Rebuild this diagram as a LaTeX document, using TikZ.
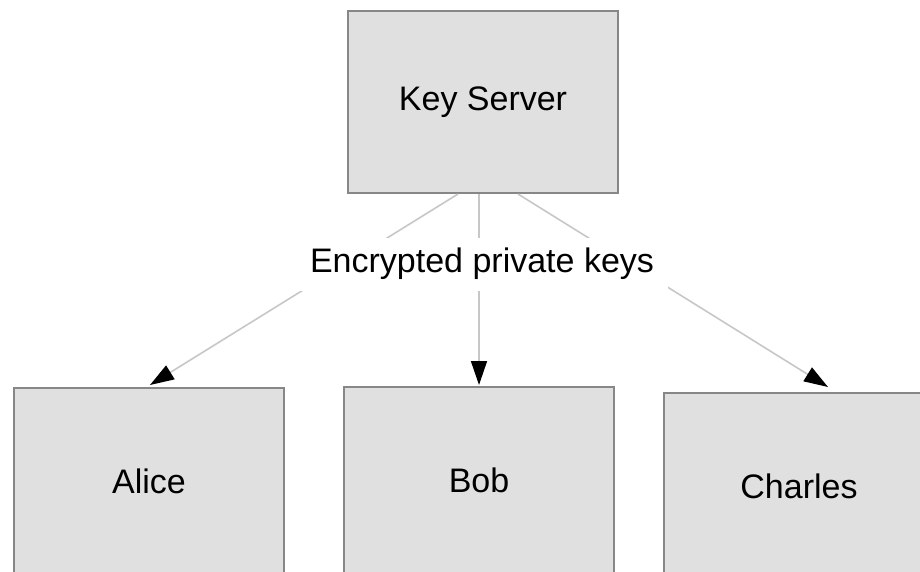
\documentclass[tikz,border=0pt]{standalone}
\usepackage{fontspec}
\setmainfont{Liberation Sans}
\usetikzlibrary{arrows.meta}
\begin{document}
\begin{tikzpicture}[x=1pt,y=-1pt,
  party/.style={draw=black!47, line width=2pt, fill=black!12,
    minimum width=270pt, inner sep=0pt, anchor=north west,
    font=\fontsize{34}{40}\selectfont},
  link/.style={draw=black!22, line width=1.6pt,
    -{Triangle[length=24pt,width=16pt,fill=black,color=black]}},
  tag/.style={fill=white, inner sep=0pt, minimum width=372pt,
    minimum height=53pt, font=\fontsize{34}{40}\selectfont}
]
\useasboundingbox (0,0) rectangle (920,571);
\clip (0,0) rectangle (920,571);

% server and the three users
\node[party, minimum height=182pt] (ks) at (347,10) {Key Server};
\node[party, minimum height=186pt] (alice) at (13,387) {Alice};
\node[party, minimum height=186pt] (bob) at (343,386) {Bob};
\node[party, minimum height=186pt] (charles) at (663,392) {Charles};

% key distribution links
\draw[link] ([xshift=111pt]ks.south west) -- ([xshift=137pt,yshift=2pt]alice.north west);
\draw[link] ([xshift=132pt]ks.south west) -- ([xshift=136pt,yshift=1pt]bob.north west);
\draw[link] ([xshift=171pt]ks.south west) -- ([xshift=165pt,yshift=5pt]charles.north west);

% shared label over the links
\node[tag] (lbl) at (482,264) {Encrypted private keys};
\end{tikzpicture}
\end{document}
